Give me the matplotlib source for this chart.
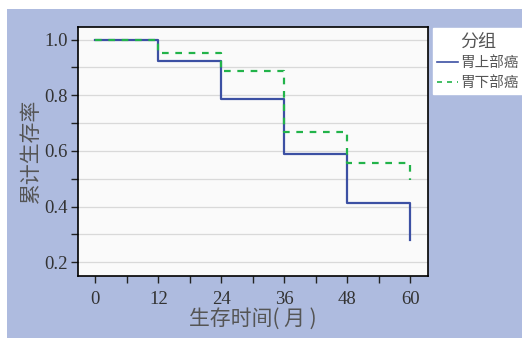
import matplotlib
matplotlib.use('Agg')
import matplotlib.pyplot as plt
from matplotlib.patches import Rectangle
from matplotlib.ticker import MultipleLocator

plt.rcParams['font.family'] = ['Noto Sans CJK SC', 'DejaVu Sans']

# survival steps at each follow-up month
months = [0, 12, 24, 36, 48, 60]
upper_surv = [1.0, 0.924, 0.785, 0.590, 0.413, 0.280]   # 胃上部癌
lower_surv = [1.0, 0.952, 0.886, 0.667, 0.557, 0.495]   # 胃下部癌
group_names = ['胃上部癌', '胃下部癌']
xticks = [0, 12, 24, 36, 48, 60]
yticks = [0.2, 0.4, 0.6, 0.8, 1.0]

bg = '#aebbdf'
W, H = 522, 338
fig = plt.figure(figsize=(W / 100, H / 100), dpi=100)
fig.patch.set_facecolor('white')
fig.patches.append(Rectangle((7 / W, 0), 1, 1 - 9 / H, transform=fig.transFigure,
                             facecolor=bg, edgecolor='none', zorder=-1))

ax = fig.add_axes([77.5 / W, 1 - 275.5 / H, (428 - 77.5) / W, (275.5 - 26.5) / H])
ax.set_facecolor('#fafafa')


def km_steps(t, s):
    # build step coordinates: drop happens at each time point, last drop is a vertical tail
    xs, ys = [t[0]], [s[0]]
    for i in range(1, len(t)):
        xs += [t[i], t[i]]
        ys += [s[i - 1], s[i]]
    return xs, ys


x1, y1 = km_steps(months, upper_surv)
x2, y2 = km_steps(months, lower_surv)
ax.plot(x1, y1, color='#3c50a3', lw=1.6, label=group_names[0], zorder=3)
ax.plot(x2, y2, color='#22b34a', lw=1.6, ls=(0, (3, 3)), label=group_names[1], zorder=4)

ax.set_xlim(-3.4, 63.4)
ax.set_ylim(0.152, 1.047)
ax.set_xticks(xticks)
ax.xaxis.set_minor_locator(MultipleLocator(6))
ax.set_yticks(yticks)
ax.set_yticklabels(['%.1f' % v for v in yticks])
ax.yaxis.set_minor_locator(MultipleLocator(0.1))
ax.grid(True, which='both', axis='y', color='#d9d9d9', lw=0.9)
ax.set_axisbelow(True)

for sp in ax.spines.values():
    sp.set_color('black')
    sp.set_linewidth(1.2)
ax.tick_params(which='both', direction='out', length=5, width=1, color='#222222')
for lab in ax.get_xticklabels() + ax.get_yticklabels():
    lab.set_family(['Liberation Serif', 'DejaVu Serif'])
    lab.set_fontsize(13.5)
    lab.set_color('#333333')
ax.tick_params(axis='x', pad=6)
ax.tick_params(axis='y', pad=2)

ax.set_ylabel('累计生存率', fontsize=15, color='#555555', labelpad=2)
ax.set_xlabel('生存时间( 月 )', fontsize=15, color='#555555', labelpad=0)

leg = fig.legend(loc='upper left', bbox_to_anchor=(433 / W, 1 - 28 / H),
                 title='分组', fontsize=10.5, title_fontsize=13,
                 frameon=True, fancybox=False, handlelength=1.4, handletextpad=0.15,
                 borderaxespad=0, borderpad=0.3, labelspacing=0.4)
leg.get_frame().set_facecolor('white')
leg.get_frame().set_edgecolor('white')
leg.get_frame().set_alpha(1)
for t in leg.get_texts():
    t.set_color('#555555')
leg.get_title().set_color('#555555')
for h in leg.legend_handles:
    h.set_linewidth(1.2)

fig.savefig('out.png', dpi=100)
